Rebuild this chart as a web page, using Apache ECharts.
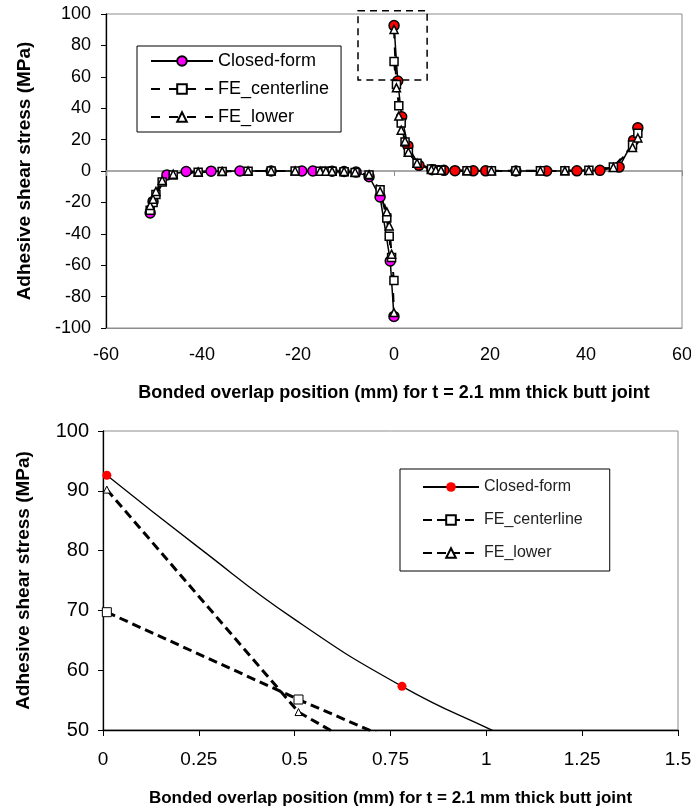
<!DOCTYPE html>
<html>
<head>
<meta charset="utf-8">
<script src="https://cdn.jsdelivr.net/npm/echarts@6/dist/echarts.min.js"></script>
<style>
  body { margin: 0; background: #fff; }
  #top { position: absolute; left: 0; top: 0; width: 691px; height: 405px; }
  #bottom { position: absolute; left: 0; top: 405px; width: 691px; height: 405px; }
</style>
</head>
<body>
<div id="top"></div>
<div id="bottom"></div>
<script>
// ---- full joint (top chart) ----
// closed-form, left half (drawn magenta) and right half (drawn red)
var cfLeftX = [-50.8, -50.2, -47.3, -43.3, -38.1, -32.1, -25.6, -19.2, -16.9, -12.9, -10.4, -7.9, -5.2, -2.9, -0.78, -0.01]
var cfLeftY = [-26.7, -19.5, -2.5, -0.3, -0.1, 0, 0, 0, 0, -0.1, -0.3, -0.7, -3.6, -16.5, -57.3, -92.6]
var cfRightX = [0.01, 0.78, 1.6, 2.9, 5.2, 7.9, 10.4, 12.7, 16.5, 19.1, 25.4, 31.8, 38.1, 42.9, 46.9, 49.9, 50.8]
var cfRightY = [92.6, 57.3, 34.5, 16, 3.6, 0.8, 0.4, 0.2, 0.1, 0.1, 0, 0, 0.1, 0.4, 2.5, 19.5, 27.5]

// FE nodes
var feLeftX = [-50.8, -50.2, -49.6, -48.3, -46.0, -40.8, -35.8, -30.4, -25.6, -20.6, -15.4, -14.2, -12.9, -10.4, -8.1, -5.2, -2.9, -1.5, -1.0, -0.5, -0.01]
var centerLeftY = [-25, -20, -15, -7, -2.5, -0.8, -0.3, -0.1, 0, 0, -0.1, -0.1, -0.2, -0.4, -0.9, -2.5, -12, -30, -41.5, -55.1, -69.7]
var lowerLeftY = [-22, -18, -13, -6, -2, -0.6, -0.2, 0, 0, 0, -0.1, -0.1, -0.2, -0.3, -0.8, -2.3, -13, -26, -35, -53, -90.2]
var feRightX = [0.01, 0.51, 1.0, 1.5, 2.3, 3.0, 4.8, 7.8, 8.7, 9.8, 15.2, 20.3, 25.4, 30.5, 35.6, 40.6, 45.7, 49.7, 50.8]
var centerRightY = [69.7, 55.1, 41.5, 30.5, 18.5, 12, 5, 1.2, 0.8, 0.5, 0.2, 0.1, 0.1, 0.1, 0.2, 0.5, 2.5, 16.5, 24]
var lowerRightY = [90.2, 53, 35, 26, 19, 12, 5, 1, 0.6, 0.4, 0.1, 0, 0, 0, 0.1, 0.3, 2.3, 15, 21]

// ---- close-up near x = 0 (bottom chart) ----
var zoomCfX = [0.01, 0.25, 0.5, 0.78, 1.02, 1.25, 1.5]
var zoomCfY = [92.6, 80.5, 68.5, 57.3, 49.8, 43, 36.5]
var zoomCfMarker = [1, 0, 0, 1, 0, 0, 0]

var seriesNames = ['Closed-form', 'FE_centerline', 'FE_lower']
var xTitle = 'Bonded overlap position (mm) for t = 2.1 mm thick butt joint'
var yTitle = 'Adhesive shear stress (MPa)'
var font = 'Liberation Sans, Arial, sans-serif'

function pairs (xs, ys) {
  return xs.map(function (x, i) { return [x, ys[i]] })
}

// 组装一条折线
function lineSeries (name, data, sym, size, fill, lineStyle) {
  return {
    type: 'line',
    name: name,
    data: data,
    symbol: sym,
    symbolSize: size,
    itemStyle: { color: fill, borderColor: '#000', borderWidth: 1.5 },
    lineStyle: lineStyle,
    emphasis: { disabled: true }
  }
}

var solid = { color: '#000', width: 1.5, type: 'solid' }
var dashTop = { color: '#000', width: 2, type: [9, 9] }

var topChart = echarts.init(document.getElementById('top'))
topChart.setOption({
  animation: false,
  textStyle: { fontFamily: font },
  grid: {
    left: 106, right: 9, top: 14, bottom: 77, outerBoundsMode: 'none',
    show: true, borderColor: '#8c8c8c', borderWidth: 1
  },
  legend: {
    orient: 'vertical', left: 137, top: 46,
    padding: [6, 12, 6, 13], itemGap: 10, itemWidth: 62, itemHeight: 12,
    backgroundColor: '#fff', borderColor: '#000', borderWidth: 1,
    textStyle: { fontSize: 18, color: '#000', fontFamily: font },
    data: seriesNames
  },
  xAxis: [{
    type: 'value', min: -60, max: 60, interval: 20, position: 'bottom',
    name: xTitle, nameLocation: 'middle', nameGap: 56,
    nameTextStyle: { fontWeight: 'bold', fontSize: 18, color: '#000', fontFamily: font },
    axisLine: { onZero: false, lineStyle: { color: '#8c8c8c', width: 1 } },
    axisTick: { show: false },
    axisLabel: { color: '#000', fontSize: 18, margin: 18, fontFamily: font },
    splitLine: { show: false }
  }, {
    // 零线及其刻度
    type: 'value', min: -60, max: 60, interval: 20, position: 'bottom',
    axisLine: { onZero: true, lineStyle: { color: '#8c8c8c', width: 1.5 } },
    axisTick: { show: true, length: 5, lineStyle: { color: '#8c8c8c' } },
    axisLabel: { show: false },
    splitLine: { show: false }
  }],
  yAxis: {
    type: 'value', min: -100, max: 100, interval: 20,
    name: yTitle, nameLocation: 'middle', nameGap: 72,
    nameTextStyle: { fontWeight: 'bold', fontSize: 19, color: '#000', fontFamily: font },
    axisLine: { show: true, onZero: false, lineStyle: { color: '#000', width: 1.3 } },
    axisTick: { show: true, length: 5, lineStyle: { color: '#000' } },
    axisLabel: { color: '#000', fontSize: 18, margin: 15, fontFamily: font },
    splitLine: { show: false }
  },
  series: [
    lineSeries('Closed-form', pairs(cfLeftX, cfLeftY), 'circle', 10, '#ff00ff', solid),
    lineSeries('Closed-form', pairs(cfRightX, cfRightY), 'circle', 10, '#ff0000', solid),
    lineSeries('FE_centerline', pairs(feLeftX, centerLeftY), 'rect', 8, '#fff', dashTop),
    lineSeries('FE_centerline', pairs(feRightX, centerRightY), 'rect', 8, '#fff', dashTop),
    lineSeries('FE_lower', pairs(feLeftX, lowerLeftY), 'triangle', 8, '#fff', dashTop),
    lineSeries('FE_lower', pairs(feRightX, lowerRightY), 'triangle', 8, '#fff', dashTop)
  ]
})

// 放大区域的虚线框
var p1 = topChart.convertToPixel({ xAxisIndex: 0, yAxisIndex: 0 }, [-7.5, 102])
var p2 = topChart.convertToPixel({ xAxisIndex: 0, yAxisIndex: 0 }, [6.9, 58])
topChart.setOption({
  graphic: [{
    type: 'rect', z: 100,
    shape: { x: p1[0], y: p1[1], width: p2[0] - p1[0], height: p2[1] - p1[1] },
    style: { fill: 'none', stroke: '#000', lineWidth: 1.5, lineDash: [7, 5] }
  }]
})

var dashBottom = { color: '#000', width: 3, type: [9, 5] }
var cfZoomData = zoomCfX.map(function (x, i) {
  return zoomCfMarker[i] ? [x, zoomCfY[i]] : { value: [x, zoomCfY[i]], symbol: 'none' }
})

var bottomChart = echarts.init(document.getElementById('bottom'))
bottomChart.setOption({
  animation: false,
  textStyle: { fontFamily: font },
  grid: {
    left: 103, right: 13, top: 26, bottom: 80, outerBoundsMode: 'none',
    show: true, borderColor: '#8c8c8c', borderWidth: 1
  },
  legend: {
    orient: 'vertical', left: 400, top: 64,
    padding: [10, 27, 10, 22], itemGap: 17, itemWidth: 56, itemHeight: 12,
    backgroundColor: '#fff', borderColor: '#000', borderWidth: 1,
    textStyle: { fontSize: 16, color: '#222', fontFamily: font },
    data: seriesNames
  },
  xAxis: {
    type: 'value', min: 0, max: 1.5, interval: 0.25,
    name: xTitle, nameLocation: 'middle', nameGap: 60,
    nameTextStyle: { fontWeight: 'bold', fontSize: 17, color: '#000', fontFamily: font },
    axisLine: { onZero: false, lineStyle: { color: '#000', width: 1.3 } },
    axisTick: { show: true, length: 6, lineStyle: { color: '#000' } },
    axisLabel: { color: '#000', fontSize: 19, margin: 20, fontFamily: font },
    splitLine: { show: false }
  },
  yAxis: {
    type: 'value', min: 50, max: 100, interval: 10,
    name: yTitle, nameLocation: 'middle', nameGap: 70,
    nameTextStyle: { fontWeight: 'bold', fontSize: 19, color: '#000', fontFamily: font },
    axisLine: { show: true, onZero: false, lineStyle: { color: '#000', width: 1.3 } },
    axisTick: { show: true, length: 5, lineStyle: { color: '#000' } },
    axisLabel: { color: '#000', fontSize: 20, margin: 14, fontFamily: font },
    splitLine: { show: false }
  },
  series: [
    {
      type: 'line', name: 'Closed-form', data: cfZoomData, smooth: true,
      symbol: 'circle', symbolSize: 9,
      itemStyle: { color: '#ff0000', borderColor: '#ff0000', borderWidth: 0 },
      lineStyle: { color: '#000', width: 1.3 },
      emphasis: { disabled: true }
    },
    {
      type: 'line', name: 'FE_centerline', data: pairs(feRightX, centerRightY),
      symbol: 'rect', symbolSize: 9,
      itemStyle: { color: '#fff', borderColor: '#000', borderWidth: 1 },
      lineStyle: dashBottom,
      emphasis: { disabled: true }
    },
    {
      type: 'line', name: 'FE_lower', data: pairs(feRightX, lowerRightY),
      symbol: 'triangle', symbolSize: 7,
      itemStyle: { color: '#fff', borderColor: '#000', borderWidth: 1 },
      lineStyle: dashBottom,
      emphasis: { disabled: true }
    }
  ]
})
</script>
</body>
</html>
